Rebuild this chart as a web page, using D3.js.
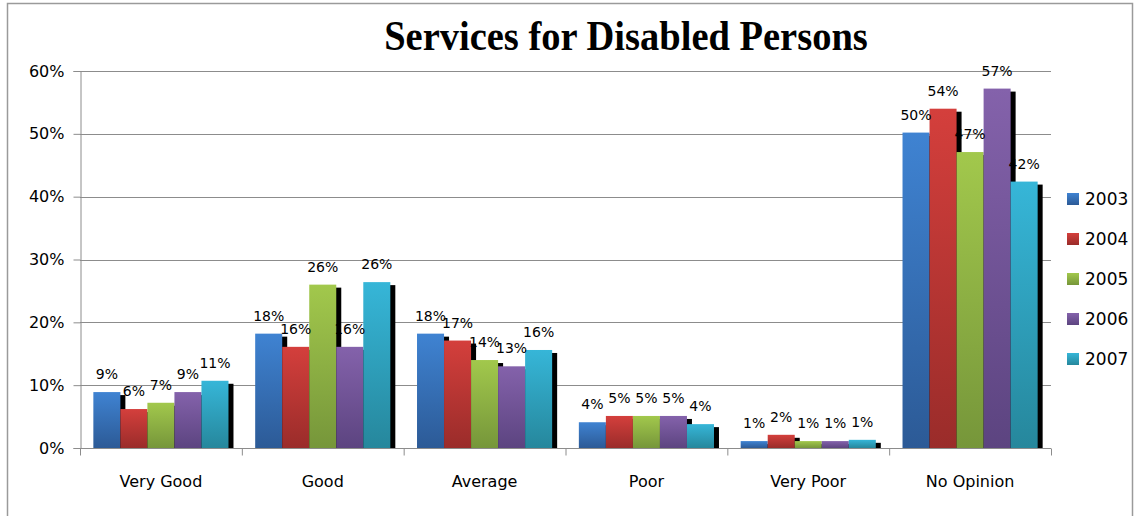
<!DOCTYPE html>
<html><head><meta charset="utf-8">
<script src="https://cdn.jsdelivr.net/npm/d3@7"></script>
<style>body{margin:0;background:#fff}svg{display:block}</style>
</head><body>
<svg id="c" width="1135" height="516"></svg>
<script>
const categories = ["Very Good","Good","Average","Poor","Very Poor","No Opinion"];
const years = ["2003","2004","2005","2006","2007"];
const v2003 = [8.9, 18.2, 18.2, 4.1, 1.1, 50.2];
const v2004 = [6.2, 16.1, 17.1, 5.1, 2.1, 54.0];
const v2005 = [7.2, 26.0, 14.0, 5.1, 1.1, 47.1];
const v2006 = [8.9, 16.1, 13.0, 5.1, 1.1, 57.2];
const v2007 = [10.7, 26.4, 15.6, 3.8, 1.3, 42.4];
const yTicks = [0,10,20,30,40,50,60];
const seriesValues = [v2003, v2004, v2005, v2006, v2007];
const colorsTop = ["#3f83d2","#d43f3c","#a2c84c","#8462ab","#36b6d8"];
const colorsBot = ["#2c5a96","#9a2c2a","#76963a","#5c4480","#26879c"];

const svg = d3.select("#c");
const font = "'DejaVu Sans', sans-serif";
// frame
svg.append("rect").attr("x",7.5).attr("y",3.5).attr("width",1125).attr("height",540)
  .attr("fill","none").attr("stroke","#9a9a9a").attr("stroke-width",1.5);

const L=80, R=1051, T=71, B=448;
const x0 = d3.scaleBand().domain(categories).range([L,R]).paddingInner(0.165).paddingOuter(0.0825);
const x1 = d3.scaleBand().domain(years).range([0,x0.bandwidth()]);
const y = d3.scaleLinear().domain([0,60]).range([B,T]);

const defs = svg.append("defs");
years.forEach((yr,i)=>{
  const g = defs.append("linearGradient").attr("id","g"+i).attr("x1",0).attr("y1",0).attr("x2",0).attr("y2",1);
  g.append("stop").attr("offset","0%").attr("stop-color",colorsTop[i]);
  g.append("stop").attr("offset","100%").attr("stop-color",colorsBot[i]);
});

// gridlines
svg.append("g").selectAll("line").data(yTicks.filter(d=>d>0)).join("line")
  .attr("x1",L).attr("x2",R).attr("y1",d=>Math.round(y(d))+0.5).attr("y2",d=>Math.round(y(d))+0.5)
  .attr("stroke","#8c8c8c").attr("stroke-width",1);

// y axis
const ya = svg.append("g").attr("transform",`translate(${L+0.5},0)`)
  .call(d3.axisLeft(y).tickValues(yTicks).tickFormat(d=>d+"%").tickSize(7).tickPadding(9));
ya.select(".domain").attr("stroke","#8c8c8c");
ya.selectAll(".tick line").attr("stroke","#8c8c8c");
ya.selectAll(".tick text").attr("font-family",font).attr("font-size",16).attr("fill","#000");

// bars
const gBars = svg.append("g");
years.forEach((yr,i)=>{
  const vals = seriesValues[i];
  const gs = gBars.append("g");
  categories.forEach((c,j)=>{
    const bx = x0(c)+x1(yr), bw = x1.bandwidth(), top = y(vals[j]);
    gs.append("rect").attr("x",bx+5).attr("y",top+3).attr("width",bw).attr("height",B-top-3).attr("fill","#000");
    gs.append("rect").attr("x",bx).attr("y",top).attr("width",bw).attr("height",B-top).attr("fill",`url(#g${i})`);
  });
});
// labels
years.forEach((yr,i)=>{
  const vals = seriesValues[i];
  svg.append("g").selectAll("text").data(categories).join("text")
    .attr("x",c=>x0(c)+x1(yr)+x1.bandwidth()/2)
    .attr("y",(c,j)=>y(vals[j])-13)
    .attr("text-anchor","middle").attr("font-family",font).attr("font-size",14).attr("fill","#000")
    .text((c,j)=>Math.round(vals[j])+"%");
});

// x axis
const xa = svg.append("g").attr("transform",`translate(0,${B+0.5})`);
xa.append("line").attr("x1",L).attr("x2",R).attr("stroke","#8c8c8c");
const bounds = categories.map((c,j)=>L+(R-L)*j/categories.length).concat([R]);
xa.selectAll("line.t").data(bounds).join("line").attr("class","t")
  .attr("x1",d=>d+0.5).attr("x2",d=>d+0.5).attr("y1",0).attr("y2",7).attr("stroke","#8c8c8c");
xa.selectAll("text").data(categories).join("text")
  .attr("x",c=>x0(c)+x0.bandwidth()/2).attr("y",38)
  .attr("text-anchor","middle").attr("font-family",font).attr("font-size",16).attr("fill","#000")
  .text(d=>d);

// legend
const lg = svg.append("g");
years.forEach((yr,i)=>{
  const cy = 199 + i*40;
  lg.append("rect").attr("x",1067).attr("y",cy-6).attr("width",12).attr("height",12).attr("fill",`url(#g${i})`);
  lg.append("text").attr("x",1085).attr("y",cy+6).attr("font-family",font).attr("font-size",17).attr("fill","#000").text(yr);
});

// title
svg.append("text").attr("transform","translate(626,50) scale(1,1.1)").attr("text-anchor","middle")
  .attr("font-family","'Liberation Serif','Times New Roman',serif").attr("font-weight","bold")
  .attr("font-size",38.5).attr("fill","#000").text("Services for Disabled Persons");
</script>
</body></html>
